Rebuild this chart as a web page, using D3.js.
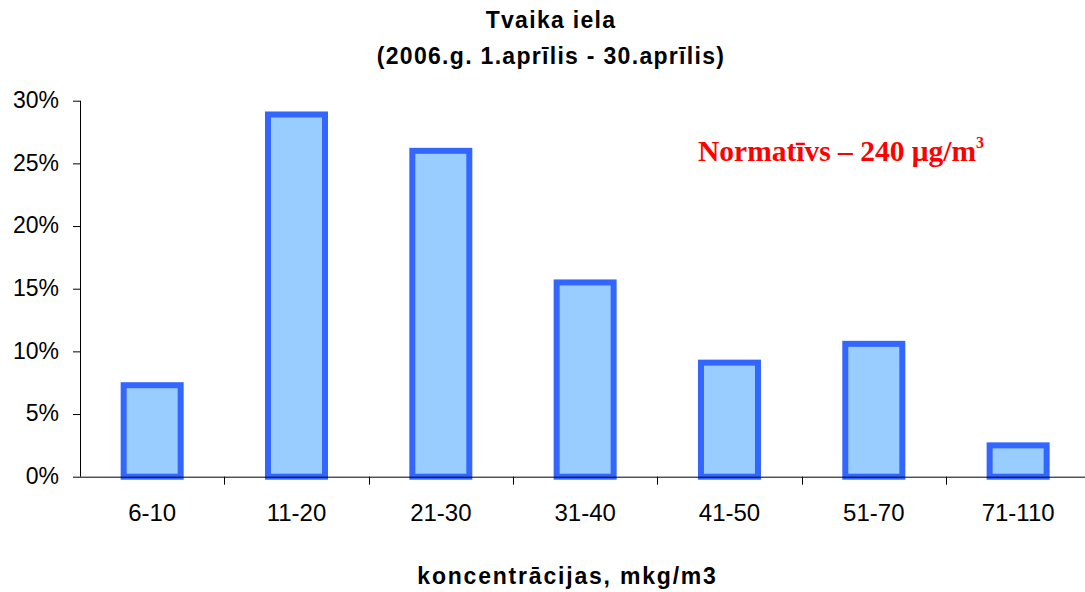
<!DOCTYPE html>
<html><head><meta charset="utf-8">
<script src="https://cdn.jsdelivr.net/npm/d3@7"></script>
<style>body{margin:0;background:#fff}</style>
</head><body>
<svg id="c" width="1085" height="592"></svg>
<script>
const categories = ["6-10","11-20","21-30","31-40","41-50","51-70","71-110"];
const values = [7.3, 28.9, 26.0, 15.5, 9.1, 10.6, 2.5];
const yTicks = [0,5,10,15,20,25,30];
const titleLines = ["Tvaika iela","(2006.g. 1.aprīlis - 30.aprīlis)"];
const xTitle = "koncentrācijas, mkg/m3";

(function(){
const svg = d3.select("#c");
const pL = 80, pT = 100.7, pB = 476.7, pR = 1090.3;
const font = "Liberation Sans, Arial, sans-serif";
const x = d3.scaleBand().domain(categories).range([pL, pR]).paddingInner(0.605).paddingOuter(0.3025);
const y = d3.scaleLinear().domain([0,30]).range([pB, pT]);

svg.append("g").selectAll("rect").data(values).join("rect")
  .attr("x",(d,i)=>x(categories[i])).attr("width",x.bandwidth())
  .attr("y",d=>y(d)).attr("height",d=>pB-y(d))
  .attr("fill","#99CCFF").attr("stroke","#3366FF").attr("stroke-width",6);

const ya = d3.axisLeft(y).tickValues(yTicks).tickFormat(d=>d+"%").tickSize(7).tickPadding(14);
svg.append("g").attr("transform",`translate(${pL},0)`).call(ya)
  .call(g=>{g.select(".domain").attr("d",`M0.5,${pT}V${pB}`).attr("stroke","#000");
    g.selectAll(".tick line").attr("stroke","#000");
    g.selectAll("text").attr("font-family",font).attr("font-size",23).attr("fill","#000").attr("dy","0.3em");});

const xb = d3.scaleLinear().domain([0,7]).range([pL,pR]);
const xa = d3.axisBottom(x).tickSize(0).tickPadding(27);
const gx = svg.append("g").attr("transform",`translate(0,${pB})`).call(xa);
gx.select(".domain").attr("d",`M${pL},0.5H${pR}`).attr("stroke","#000");
gx.selectAll("text").attr("font-family",font).attr("font-size",24).attr("fill","#000");
gx.selectAll(".sep").data(d3.range(1,8)).join("line").attr("class","sep")
  .attr("x1",d=>Math.round(xb(d))+0.5).attr("x2",d=>Math.round(xb(d))+0.5).attr("y1",0).attr("y2",8).attr("stroke","#000");

svg.selectAll(".title").data(titleLines).join("text").attr("class","title")
  .attr("x",551).attr("y",(d,i)=>27.5+i*36).attr("text-anchor","middle")
  .attr("font-family",font).attr("font-weight","bold").attr("font-size",23)
  .attr("letter-spacing",1.3).text(d=>d);

svg.append("text").attr("x",567.5).attr("y",584).attr("text-anchor","middle")
  .attr("font-family",font).attr("font-weight","bold").attr("font-size",23)
  .attr("letter-spacing",1.8).text(xTitle);

const n = svg.append("text").attr("x",698).attr("y",161)
  .attr("font-family","Liberation Serif, Times New Roman, serif").attr("font-weight","bold").attr("font-size",29.5).attr("fill","#FF0000");
n.append("tspan").text("Normatīvs – 240 μg/m");
n.append("tspan").attr("font-size",16).attr("dy",-13).text("3");
})();
</script>
</body></html>
